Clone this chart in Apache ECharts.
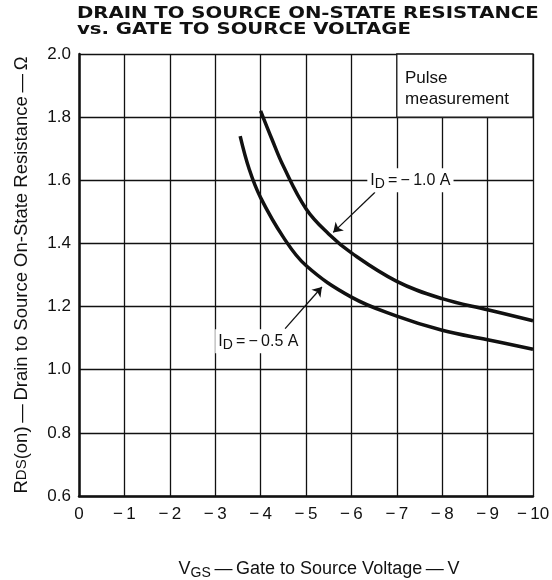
<!DOCTYPE html>
<html>
<head>
<meta charset="utf-8">
<script src="https://cdn.jsdelivr.net/npm/echarts@6/dist/echarts.min.js"></script>
<style>
  html, body { margin: 0; padding: 0; background: #fff; }
  #chart { width: 552px; height: 580px; }
</style>
</head>
<body>
<div id="chart"></div>
<script>
// curve readings (VGS in V, RDS(on) in ohm)
var vgs10 = [-4, -4.25, -4.5, -5, -5.5, -6, -7, -8, -9, -10];
var rds10 = [1.82, 1.73, 1.645, 1.51, 1.43, 1.37, 1.28, 1.225, 1.19, 1.155];
var vgs05 = [-3.55, -3.75, -4, -4.5, -5, -6, -7, -8, -9, -10];
var rds05 = [1.74, 1.635, 1.545, 1.42, 1.33, 1.23, 1.17, 1.125, 1.095, 1.065];

var titleLines = ['DRAIN TO SOURCE ON-STATE RESISTANCE', 'vs. GATE TO SOURCE VOLTAGE'];

function pairs(xs, ys) {
    var out = [];
    for (var i = 0; i < xs.length; i++) out.push([xs[i], ys[i]]);
    return out;
}

var chart = echarts.init(document.getElementById('chart'));
var font = 'Liberation Sans';
var dash = '\u2009\u2014\u2009';

function idLabel(txt) {
    return {
        show: true, position: 'inside',
        backgroundColor: '#fff', padding: [1, 3],
        formatter: '{v|I}{s|D}{v|\u2009=\u2009\u2212\u2009' + txt + '}',
        rich: {
            v: { fontFamily: font, fontSize: 16, color: '#111' },
            s: { fontFamily: font, fontSize: 14, color: '#111', padding: [8, 0, 0, 0] }
        }
    };
}

chart.setOption({
    animation: false,
    backgroundColor: '#fff',
    graphic: [{
        type: 'text',
        x: 77, y: 6,
        scaleX: 1.23,
        style: {
            text: titleLines.join('\n'),
            font: 'bold 16px "DejaVu Sans"',
            lineHeight: 16,
            fill: '#111'
        }
    }],
    grid: { left: 79, right: 19, top: 54, bottom: 84, outerBoundsMode: 'none', containLabel: false },
    xAxis: {
        type: 'value',
        min: -10, max: 0, interval: 1,
        inverse: true,
        axisLine: { show: true, onZero: false, lineStyle: { color: '#111', width: 2.5 } },
        axisTick: { show: false },
        splitLine: { show: true, lineStyle: { color: '#111', width: 1.3 } },
        axisLabel: {
            margin: 10,
            fontFamily: font, fontSize: 17, color: '#111',
            formatter: function (v) { return v === 0 ? '0' : '\u2212\u2009' + Math.abs(v); }
        },
        name: '{v|V}{s|GS}{v|' + dash + 'Gate to Source Voltage' + dash + 'V}',
        nameLocation: 'middle',
        nameGap: 62,
        nameTextStyle: {
            padding: [0, 0, 0, 26],
            rich: {
                v: { fontFamily: font, fontSize: 18, color: '#111' },
                s: { fontFamily: font, fontSize: 14, color: '#111', padding: [8, 0, 0, 0] }
            }
        }
    },
    yAxis: {
        type: 'value',
        min: 0.6, max: 2.0, interval: 0.2,
        axisLine: { show: true, lineStyle: { color: '#111', width: 2.5 } },
        axisTick: { show: false },
        splitLine: { show: true, lineStyle: { color: '#111', width: 1.3 } },
        axisLabel: {
            margin: 8,
            fontFamily: font, fontSize: 17, color: '#111',
            formatter: function (v) { return v.toFixed(1); }
        },
        name: '{v|R}{s|DS}{v|(on)' + dash + 'Drain to Source On-State Resistance' + dash + '\u03a9}',
        nameLocation: 'middle',
        nameGap: 48,
        nameTextStyle: {
            rich: {
                v: { fontFamily: font, fontSize: 18.5, color: '#111' },
                s: { fontFamily: font, fontSize: 15, color: '#111' }
            }
        }
    },
    series: [
        {
            name: 'box',
            type: 'line',
            data: [],
            z: 3,
            markArea: {
                silent: true,
                itemStyle: { color: '#fff', borderColor: '#111', borderWidth: 1.3 },
                label: { show: false },
                data: [[{ coord: [-7, 2.0] }, { coord: [-10, 1.8] }]]
            },
            markPoint: {
                symbol: 'rect', symbolSize: 1,
                itemStyle: { color: 'rgba(0,0,0,0)' },
                label: {
                    show: true, position: 'right', distance: 0,
                    formatter: 'Pulse\nmeasurement',
                    fontFamily: font, fontSize: 17, color: '#111', lineHeight: 21
                },
                data: [{ coord: [-7.17, 1.89] }]
            }
        },
        {
            name: 'ID=-1.0A',
            type: 'line',
            smooth: 0.4,
            symbol: 'none',
            z: 5,
            lineStyle: { color: '#111', width: 3.5 },
            data: pairs(vgs10, rds10),
            markLine: {
                silent: true,
                symbol: ['none', 'arrow'],
                symbolSize: 9,
                lineStyle: { color: '#111', width: 1.3, type: 'solid' },
                label: { show: false },
                data: [[{ coord: [-6.52, 1.562] }, { coord: [-5.6, 1.435] }]]
            },
            markPoint: {
                symbol: 'rect', symbolSize: 1,
                itemStyle: { color: 'rgba(0,0,0,0)' },
                label: idLabel('1.0 A'),
                data: [{ coord: [-7.3, 1.6] }]
            }
        },
        {
            name: 'ID=-0.5A',
            type: 'line',
            smooth: 0.4,
            symbol: 'none',
            z: 5,
            lineStyle: { color: '#111', width: 3.5 },
            data: pairs(vgs05, rds05),
            markLine: {
                silent: true,
                symbol: ['none', 'arrow'],
                symbolSize: 9,
                lineStyle: { color: '#111', width: 1.3, type: 'solid' },
                label: { show: false },
                data: [[{ coord: [-4.54, 1.13] }, { coord: [-5.35, 1.262] }]]
            },
            markPoint: {
                symbol: 'rect', symbolSize: 1,
                itemStyle: { color: 'rgba(0,0,0,0)' },
                label: idLabel('0.5 A'),
                data: [{ coord: [-3.95, 1.09] }]
            }
        }
    ]
});
</script>
</body>
</html>
